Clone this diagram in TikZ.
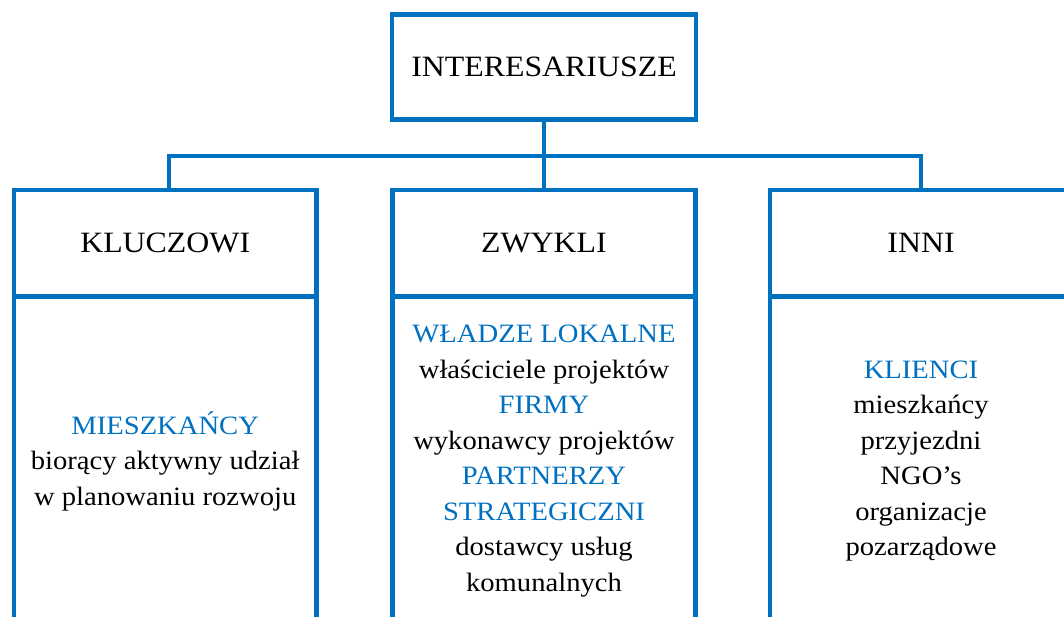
\documentclass[tikz,border=0pt]{standalone}
\usepackage{fontspec}
\setmainfont[FakeStretch=1.08]{Liberation Serif}
\definecolor{bl}{HTML}{0070C0}
\begin{document}
\begin{tikzpicture}[x=1pt,y=-1pt,
  box/.style={draw=bl, line width=4.3pt, inner sep=0pt, outer sep=0pt, align=center},
  hdr/.style={box, font=\fontsize{29.5pt}{36pt}\selectfont},
  body/.style={box, font=\fontsize{26.5pt}{35.5pt}\selectfont},
  conn/.style={draw=bl, line width=4.3pt}]
\useasboundingbox (0,0) rectangle (1064,616);
\clip (0,0) rectangle (1064,616);
\node[hdr, minimum width=304, minimum height=105] (top) at (544,67) {INTERESARIUSZE};
% key
\node[hdr, minimum width=302.5, minimum height=106.5] (kh) at (165.2,243.2) {KLUCZOWI};
\node[body, minimum width=302.5, minimum height=329, anchor=north] (kb) at (kh.south)
  {\textcolor{bl}{MIESZKAŃCY}\\biorący aktywny udział\\w planowaniu rozwoju};
% ordinary
\node[hdr, minimum width=303, minimum height=106.5] (zh) at (544,243.2) {ZWYKLI};
\node[body, minimum width=303, minimum height=329, anchor=north] (zb) at (zh.south)
  {\textcolor{bl}{WŁADZE LOKALNE}\\właściciele projektów\\\textcolor{bl}{FIRMY}\\wykonawcy projektów\\\textcolor{bl}{PARTNERZY}\\\textcolor{bl}{STRATEGICZNI}\\dostawcy usług\\komunalnych};
% others
\node[hdr, minimum width=302, minimum height=106.5] (ih) at (921,243.2) {INNI};
\node[body, minimum width=302, minimum height=329, anchor=north] (ib) at (ih.south)
  {\textcolor{bl}{KLIENCI}\\mieszkańcy\\przyjezdni\\NGO’s\\organizacje\\pozarządowe};
% connectors
\coordinate (jn) at (544,156);
\draw[conn] (top.south) -- (zh.north);
\draw[conn] ([xshift=3.5pt]kh.north) |- (jn) -| (ih.north);
\end{tikzpicture}
\end{document}
